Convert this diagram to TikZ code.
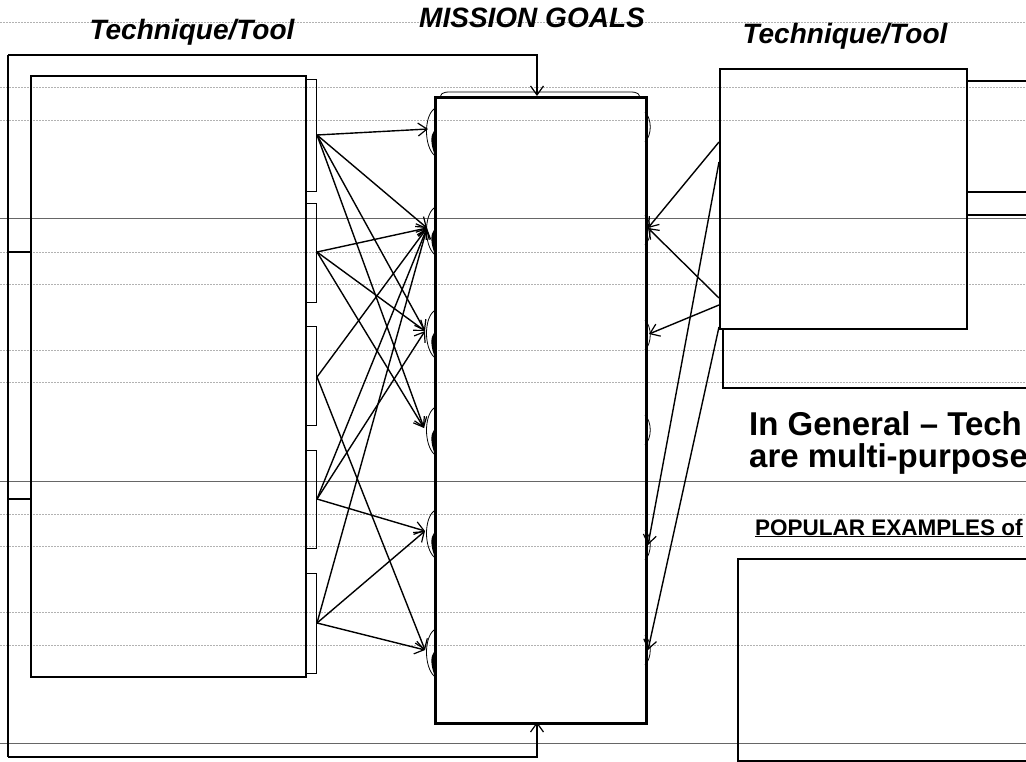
\documentclass[tikz,border=0pt]{standalone}
\usepackage{fontspec}
\setmainfont{Liberation Sans}
\usetikzlibrary{arrows.meta}
\tikzset{
  gridd/.style={draw=black!30, line width=0.6pt, dash pattern=on 2pt off 1pt},
  grids/.style={draw=black!60, line width=0.7pt},
  boxthick/.style={draw, line width=2.4pt, inner sep=0pt, anchor=north west},
  tabbox/.style={draw, line width=1.3pt, inner sep=0pt, anchor=north west, minimum width=11pt},
  barb/.style={-{Straight Barb[length=9pt,width=13pt,line width=1.2pt]}},
  conn/.style={line width=1.4pt, barb},
  plain/.style={line width=1.5pt},
  bump/.style={line width=0.8pt},
  title/.style={font=\fontsize{28}{30}\selectfont\bfseries\itshape, anchor=base, inner sep=0pt},
}
\begin{document}
\begin{tikzpicture}[x=1pt,y=-1pt]
\clip (0,0) rectangle (1026,762);
\fill[white] (0,0) rectangle (1026,762);
% background ruling
\foreach \y in {22,87,120,252,284,350,382,514,546,612,645}
  \draw[gridd] (0,\y) -- (1026,\y);
\foreach \y in {218,481,743}
  \draw[grids] (0,\y) -- (1026,\y);

% titles
\node[title] (tl) at (192,40) {Technique/Tool};
\node[title] (tm) at (532,28) {MISSION GOALS};
\node[title] (tr) at (845,44) {Technique/Tool};

% left box and tabs
\node[boxthick, minimum width=275pt, minimum height=601pt] (lb) at (30,75) {};
\node[tabbox, minimum height=112pt] (tab1) at (305,79) {};
\node[tabbox, minimum height=99pt] (tab2) at (305,203) {};
\node[tabbox, minimum height=99pt] (tab3) at (305,326) {};
\node[tabbox, minimum height=98pt] (tab4) at (305,450) {};
\node[tabbox, minimum height=100pt] (tab5) at (305,573) {};

% mission box
\draw[line width=0.8pt] (440,97) to[out=80,in=180] (455,92) -- (625,92) to[out=0,in=100] (640,97);
\node[draw, line width=2.8pt, inner sep=0pt, anchor=north west, minimum width=211pt, minimum height=626pt] (mg) at (434,96) {};

% right boxes
\draw[plain] (723,328) -- (723,388) -- (1030,388);
\node[boxthick, minimum width=247pt, minimum height=260pt] (rb) at (719,68) {};
\draw[plain] (966,81) -- (1030,81);
\draw[plain] (966,192) -- (1030,192);
\draw[plain] (966,215) -- (1030,215);

% bottom right box
\node[boxthick, minimum width=300pt, minimum height=202pt] (bb) at (737,558) {};

% texts
\node[font=\fontsize{33}{36}\selectfont\bfseries, anchor=base west, inner sep=0pt] (g1) at (749,435) {In General – Tech};
\node[font=\fontsize{33}{36}\selectfont\bfseries, anchor=base west, inner sep=0pt] (g2) at (749,467) {are multi-purpose};
\node[font=\fontsize{22.5}{26}\selectfont\bfseries, anchor=base west, inner sep=0pt] (pe) at (755,535) {\underline{POPULAR EXAMPLES of}};

% sources and targets
\coordinate (s1) at (317,135);
\coordinate (s2) at (317,252);
\coordinate (s3) at (317,377);
\coordinate (s4) at (317,499);
\coordinate (s5) at (317,623);
\coordinate (t1) at (428,129);
\coordinate (t2) at (427,228);
\coordinate (t3) at (425,331);
\coordinate (t4) at (424,428);
\coordinate (t5) at (425,531);
\coordinate (t6) at (425,650);

% bumps on the mission box, left side
\foreach \y in {129,228,331,428,531,650}{
  \draw[bump] (434,\y-20) .. controls (424,\y-12) and (424,\y+16) .. (434,\y+26);
  \fill (434,\y+2) .. controls (430.5,\y+6) and (430.5,\y+14) .. (434,\y+24) -- cycle;
}
% bumps on the mission box, right side
\foreach \y in {127,230,335,430,545,650}
  \draw[bump] (645,\y-15) .. controls (652,\y-8) and (652,\y+8) .. (645,\y+15);

\foreach \s/\t in {s1/t1,s1/t2,s1/t3,s1/t4,s2/t2,s2/t3,s2/t4,s3/t2,s3/t6,s4/t2,s4/t3,s4/t5,s5/t2,s5/t5,s5/t6}
  \draw[conn] (\s) -- (\t);

% right side connectors
\coordinate (r1) at (719,142);
\coordinate (r2) at (719,162);
\coordinate (r3) at (719,298);
\coordinate (r4) at (719,305);
\coordinate (r5) at (719,327);
\coordinate (u2) at (648,228);
\coordinate (u3) at (649,334);
\coordinate (u5) at (648,545);
\coordinate (u6) at (648,650);
\foreach \s/\t in {r1/u2,r2/u5,r3/u2,r4/u3,r5/u6}
  \draw[conn] (\s) -- (\t);

% feedback loop
\coordinate (c1) at (8,55);
\coordinate (c2) at (8,757);
\coordinate (j1) at (30,252);
\coordinate (j2) at (30,499);
\coordinate (mt) at (537,96);
\coordinate (mb) at (537,722);
\draw[plain] (c1) -- (c2);
\draw[plain] (j1) -- (j1 -| c1);
\draw[plain] (j2) -- (j2 -| c1);
\draw[plain, barb] (c1) -| (mt);
\draw[plain, barb] (c2) -| (mb);
\end{tikzpicture}
\end{document}
